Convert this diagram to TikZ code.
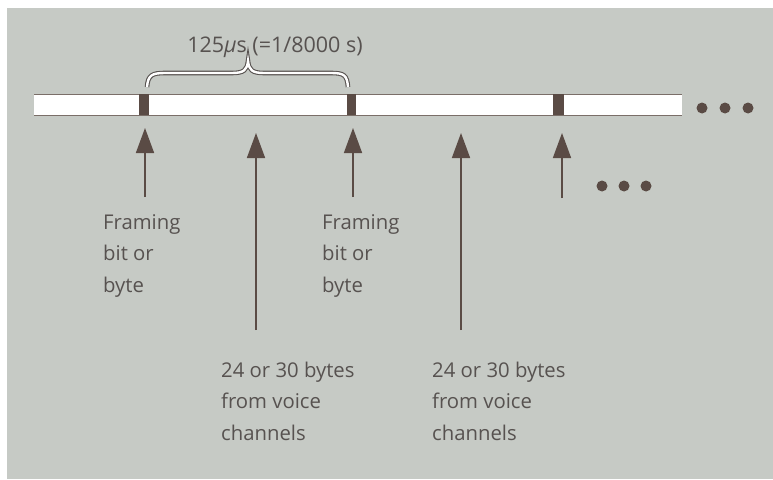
\documentclass[tikz,border=0pt]{standalone}
\usepackage{fontspec}
\setmainfont{Open Sans}
\usetikzlibrary{arrows.meta}
\definecolor{panel}{HTML}{C6CAC5}
\definecolor{ink}{HTML}{575250}
\definecolor{slotc}{HTML}{5A4B45}
\definecolor{edge}{HTML}{7A6E68}
\tikzset{
  lbl/.style={align=left, anchor=base west, inner sep=0pt, text=ink, font=\fontsize{20.3}{31.5}\selectfont},
  up/.style={draw=slotc, line width=1.6pt, -{Triangle[length=25pt,width=18pt]}},
  dot/.style={circle, fill=slotc, inner sep=0pt, minimum size=11pt},
  bracestyle/.style={draw=ink, double=white, line width=1.1pt, double distance=2.4pt},
}
\begin{document}
\begin{tikzpicture}[x=1pt,y=-1pt]
\useasboundingbox (0,0) rectangle (773,479);
\fill[white] (0,0) rectangle (773,479);
\fill[panel] (7,8) rectangle (773,479);
% bar
\fill[white] (34,94) rectangle (682,115);
\draw[edge, line width=0.9pt] (34,94) -- (682,94) (34,115) -- (682,115);
\fill[slotc] (139,94) rectangle (149,115);
\fill[slotc] (347,94) rectangle (356,115);
\fill[slotc] (553,94) rectangle (564,115);
\coordinate (s1) at (145,128);
\coordinate (s2) at (256,133);
\coordinate (s3) at (353,128);
\coordinate (s4) at (461,133);
\coordinate (s5) at (562,133);
% dots
\node[dot] (d1) at (702,108) {};
\node[dot] (d2) at (725,108) {};
\node[dot] (d3) at (748,108) {};
\node[dot] (e1) at (602,186) {};
\node[dot] (e2) at (624,186) {};
\node[dot] (e3) at (646,186) {};
% brace
\coordinate (b1) at (147,87);
\coordinate (bt) at (248,61);
\coordinate (b2) at (348,87);
\draw[bracestyle] (b1) .. controls (148,75) and (152,73) .. (165,73) -- (232,73)
   .. controls (244,73) and (247,70) .. (bt)
   .. controls (249,70) and (252,73) .. (264,73) -- (331,73)
   .. controls (344,73) and (347,75) .. (b2);
\node[text=ink, anchor=base, inner sep=0pt, font=\fontsize{21.5}{24}\selectfont] (t) at (275,52) {125{\itshape µ}s (=1/8000 s)};
% labels
\node[lbl] (f1) at (103,292) {Framing\\bit or\\byte};
\node[lbl] (f2) at (322,292) {Framing\\bit or\\byte};
\node[lbl] (v1) at (221,440) {24 or 30 bytes\\from voice\\channels};
\node[lbl] (v2) at (432,440) {24 or 30 bytes\\from voice\\channels};
\coordinate (a1) at (145,197);
\coordinate (a2) at (256,330);
\coordinate (a3) at (353,197);
\coordinate (a4) at (461,330);
\coordinate (a5) at (562,198);
\draw[up] (a1) -- (s1);
\draw[up] (a2) -- (s2);
\draw[up] (a3) -- (s3);
\draw[up] (a4) -- (s4);
\draw[up] (a5) -- (s5);
\end{tikzpicture}
\end{document}
